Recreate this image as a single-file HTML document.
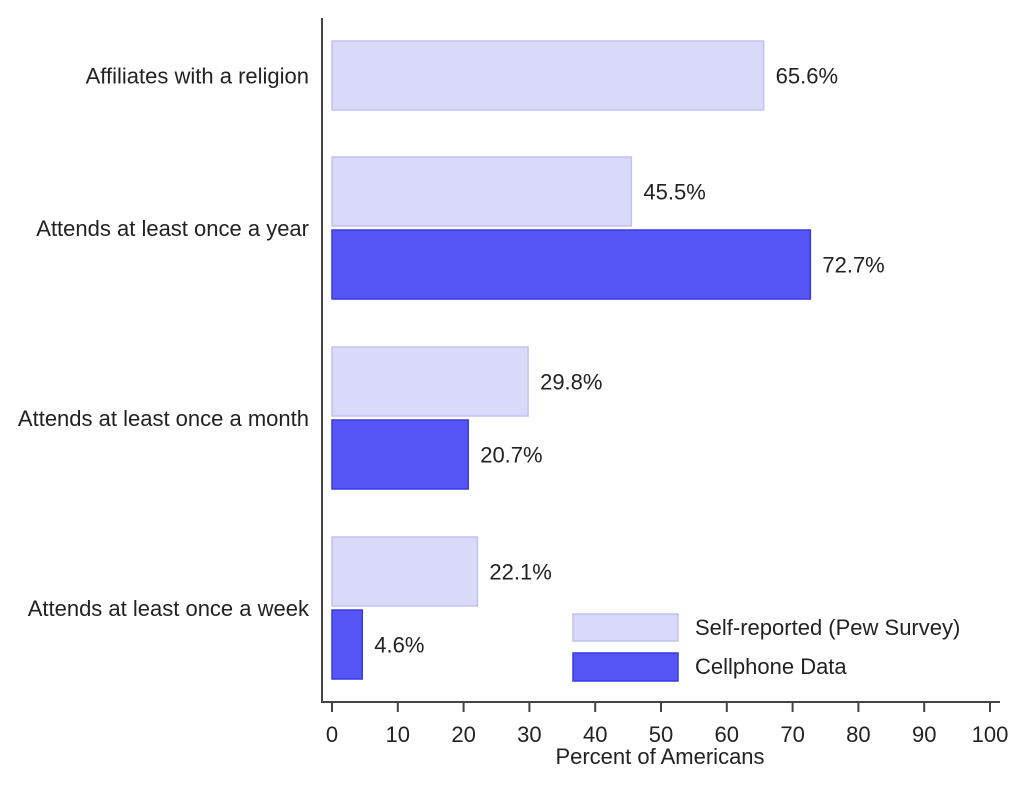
<!DOCTYPE html>
<html><head><meta charset="utf-8"><style>
body{margin:0;background:#fff}
svg text{font-family:"Liberation Sans",Arial,sans-serif;fill:#222}
</style></head><body>
<svg id="c" width="1024" height="780"></svg>
<script>
const categories=["Affiliates with a religion","Attends at least once a year","Attends at least once a month","Attends at least once a week"];
const selfReported=[65.6,45.5,29.8,22.1];
const cellphone=[null,72.7,20.7,4.6];
const ticks=[0,10,20,30,40,50,60,70,80,90,100];
const svg=document.getElementById('c');
const NS='http://www.w3.org/2000/svg';
function mk(t,a,p){const e=document.createElementNS(NS,t);for(const k in a)e.setAttribute(k,a[k]);(p||svg).appendChild(e);return e;}
const x=v=>332+v*6.58;
const FS=22;
const groupTop=[41,157,347,537];
const barH=69, gap=4;
categories.forEach((c,i)=>{
  const t=groupTop[i];
  const l=mk('rect',{x:x(0),y:t,width:x(selfReported[i])-x(0),height:barH,fill:'#d9d9fa',stroke:'#c2c2f5','stroke-width':1.5});
  
  
  const lt=mk('text',{x:x(selfReported[i])+12,y:t+barH/2+8,'font-size':FS});
  lt.textContent=selfReported[i].toFixed(1)+'%';
  
  
  let cy=t+barH/2;
  if(cellphone[i]!=null){
    const t2=t+barH+gap;
    const d=mk('rect',{x:x(0),y:t2,width:x(cellphone[i])-x(0),height:barH,fill:'#5656f4',stroke:'#3838e6','stroke-width':1.5});
    
    
    const dt=mk('text',{x:x(cellphone[i])+12,y:t2+barH/2+8,'font-size':FS});
    dt.textContent=cellphone[i].toFixed(1)+'%';
    
    
    cy=t+barH+gap/2;
  }
  const ct=mk('text',{x:309,y:cy+8,'font-size':FS,'text-anchor':'end'});
  ct.textContent=c;
  
  
});
const ya=mk('line',{x1:322,y1:18,x2:322,y2:702,stroke:'#444','stroke-width':2});


const xa=mk('line',{x1:321,y1:702,x2:1000,y2:702,stroke:'#444','stroke-width':2});


ticks.forEach(v=>{
  const tk=mk('line',{x1:x(v),y1:702,x2:x(v),y2:712,stroke:'#444','stroke-width':2});
  
  
  const tl=mk('text',{x:x(v),y:742,'font-size':FS,'text-anchor':'middle'});
  tl.textContent=v;
  
  
});
const xt=mk('text',{x:660,y:764,'font-size':FS,'text-anchor':'middle'});
xt.textContent='Percent of Americans';


const lg=mk('g',{});


mk('rect',{x:573,y:614,width:105,height:27,fill:'#d9d9fa',stroke:'#c2c2f5','stroke-width':1.5},lg);
mk('rect',{x:573,y:653,width:105,height:28,fill:'#5656f4',stroke:'#3838e6','stroke-width':1.5},lg);
const l1=mk('text',{x:695,y:635,'font-size':FS},lg);l1.textContent='Self-reported (Pew Survey)';


const l2=mk('text',{x:695,y:674,'font-size':FS},lg);l2.textContent='Cellphone Data';


</script>
</body></html>
